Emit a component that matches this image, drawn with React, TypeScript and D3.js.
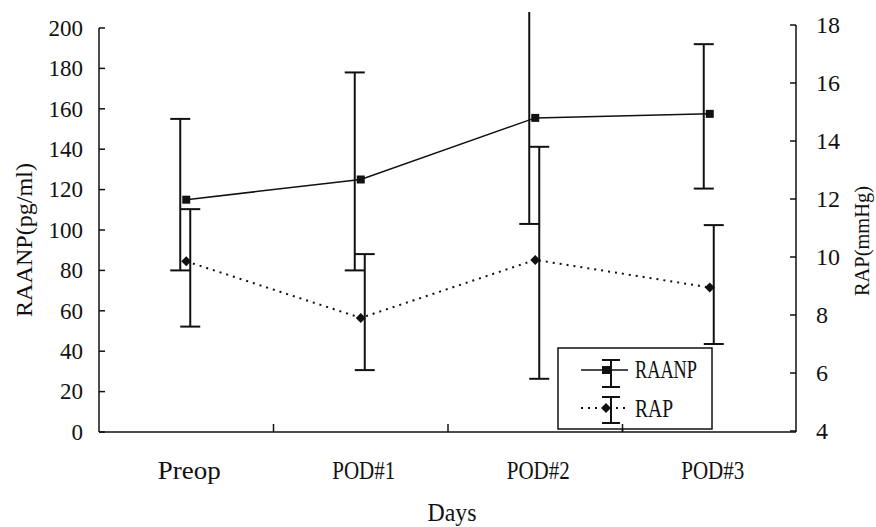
import React from "react";
import * as d3 from "d3";

const categories = ["Preop", "POD#1", "POD#2", "POD#3"];
const raanpMean = [115, 125, 155.5, 157.5];
const raanpUpper = [155, 178, 212, 192];
const raanpLower = [80, 80, 103, 120.5];
const rapMean = [9.85, 7.9, 9.9, 8.95];
const rapUpper = [11.65, 10.1, 13.8, 11.1];
const rapLower = [7.6, 6.1, 5.8, 7.0];
const leftTicks = [0, 20, 40, 60, 80, 100, 120, 140, 160, 180, 200];
const rightTicks = [4, 6, 8, 10, 12, 14, 16, 18];

const W = 876;
const H = 527;
const X0 = 99;
const X1 = 797;
const Y0 = 432;

export default function App() {
  const x = d3.scaleBand<string>().domain(categories).range([X0, X1]).padding(0);
  const yL = d3.scaleLinear().domain([0, 200]).range([432, 28]);
  const yR = d3.scaleLinear().domain([4, 18]).range([431, 25]);
  const cx = (c: string) => (x(c) as number) + x.bandwidth() / 2;

  const lineL = d3
    .line<number>()
    .x((_, i) => cx(categories[i]))
    .y((d) => yL(d));
  const lineR = d3
    .line<number>()
    .x((_, i) => cx(categories[i]))
    .y((d) => yR(d));

  const serif = "'Liberation Serif', 'Times New Roman', serif";
  const cap = 10;
  const boundaries = [...categories.map((c) => x(c) as number), X1];

  const diamond = (px: number, py: number, r: number) =>
    `M${px},${py - r}L${px + r},${py}L${px},${py + r}L${px - r},${py}Z`;

  return (
    <svg
      width={W}
      height={H}
      style={{ position: "absolute", left: 0, top: 0, background: "#fff" }}
      fontFamily={serif}
    >
      <defs>
        <clipPath id="plotclip">
          <rect x={0} y={12} width={W} height={H} />
        </clipPath>
      </defs>
      <rect x={0} y={0} width={W} height={H} fill="#fff" />

      {/* axes */}
      <line x1={X0} y1={28} x2={X0} y2={Y0} stroke="#111" strokeWidth={1.5} />
      <line x1={796} y1={25} x2={796} y2={Y0} stroke="#111" strokeWidth={1.5} />
      <line x1={X0} y1={Y0} x2={796} y2={Y0} stroke="#111" strokeWidth={1.5} />

      {leftTicks.map((t) => (
        <g key={"l" + t}>
          <line x1={X0} x2={X0 + 6} y1={yL(t)} y2={yL(t)} stroke="#111" strokeWidth={1.5} />
          <text x={83} y={yL(t)} dy="0.34em" textAnchor="end" fontSize={23} fill="#111">
            {t}
          </text>
        </g>
      ))}
      {rightTicks.map((t) => (
        <g key={"r" + t}>
          <line x1={790} x2={796} y1={yR(t)} y2={yR(t)} stroke="#111" strokeWidth={1.5} />
          <text x={816} y={yR(t)} dy="0.34em" textAnchor="start" fontSize={24} fill="#111">
            {t}
          </text>
        </g>
      ))}
      {boundaries.slice(1, -1).map((b, i) => (
        <line key={"b" + i} x1={b} x2={b} y1={Y0} y2={Y0 - 8} stroke="#111" strokeWidth={1.5} />
      ))}

      {categories.map((c) => (
        <text
          key={c}
          x={cx(c) + 3}
          y={479}
          textAnchor="middle"
          fontSize={26}
          fill="#111"
          textLength={63}
          lengthAdjust="spacingAndGlyphs"
        >
          {c}
        </text>
      ))}
      <text x={452} y={521} textAnchor="middle" fontSize={25} fill="#111" textLength={49} lengthAdjust="spacingAndGlyphs">
        Days
      </text>
      <text
        transform="translate(32,240) rotate(-90)"
        textAnchor="middle"
        fontSize={23}
        fill="#111"
        textLength={154}
        lengthAdjust="spacingAndGlyphs"
      >
        RAANP(pg/ml)
      </text>
      <text
        transform="translate(869,241) rotate(-90)"
        textAnchor="middle"
        fontSize={21}
        fill="#111"
        textLength={110}
        lengthAdjust="spacingAndGlyphs"
      >
        RAP(mmHg)
      </text>

      {/* error bars */}
      <g clipPath="url(#plotclip)" stroke="#111" strokeWidth={2}>
        {categories.map((c, i) => {
          const ex = cx(c) - 6;
          return (
            <g key={"ea" + c}>
              <line x1={ex} x2={ex} y1={yL(raanpUpper[i])} y2={yL(raanpLower[i])} />
              <line x1={ex - cap} x2={ex + cap} y1={yL(raanpUpper[i])} y2={yL(raanpUpper[i])} />
              <line x1={ex - cap} x2={ex + cap} y1={yL(raanpLower[i])} y2={yL(raanpLower[i])} />
            </g>
          );
        })}
        {categories.map((c, i) => {
          const ex = cx(c) + 4;
          return (
            <g key={"eb" + c}>
              <line x1={ex} x2={ex} y1={yR(rapUpper[i])} y2={yR(rapLower[i])} />
              <line x1={ex - cap} x2={ex + cap} y1={yR(rapUpper[i])} y2={yR(rapUpper[i])} />
              <line x1={ex - cap} x2={ex + cap} y1={yR(rapLower[i])} y2={yR(rapLower[i])} />
            </g>
          );
        })}
      </g>

      {/* lines */}
      <path d={lineL(raanpMean) ?? ""} fill="none" stroke="#111" strokeWidth={1.5} />
      <path d={lineR(rapMean) ?? ""} fill="none" stroke="#111" strokeWidth={2} strokeDasharray="2 5" />
      {categories.map((c, i) => (
        <rect key={"m" + c} x={cx(c) - 4} y={yL(raanpMean[i]) - 4} width={8} height={8} fill="#111" />
      ))}
      {categories.map((c, i) => (
        <path key={"d" + c} d={diamond(cx(c), yR(rapMean[i]), 5)} fill="#111" />
      ))}

      {/* legend */}
      <rect x={558} y={348} width={154} height={81} fill="#fff" stroke="#111" strokeWidth={1.5} />
      <line x1={581} x2={628} y1={370} y2={370} stroke="#111" strokeWidth={1.5} />
      <line x1={611} x2={611} y1={360} y2={387} stroke="#111" strokeWidth={2} />
      <line x1={602} x2={620} y1={360} y2={360} stroke="#111" strokeWidth={2} />
      <line x1={602} x2={620} y1={387} y2={387} stroke="#111" strokeWidth={2} />
      <rect x={602} y={366} width={8} height={8} fill="#111" />
      <text x={635} y={378} fontSize={25} fill="#111" textLength={62} lengthAdjust="spacingAndGlyphs">
        RAANP
      </text>
      <line x1={581} x2={628} y1={408} y2={408} stroke="#111" strokeWidth={2} strokeDasharray="2 5" />
      <line x1={611} x2={611} y1={397} y2={423} stroke="#111" strokeWidth={2} />
      <line x1={602} x2={620} y1={397} y2={397} stroke="#111" strokeWidth={2} />
      <line x1={602} x2={620} y1={423} y2={423} stroke="#111" strokeWidth={2} />
      <path d={diamond(606, 408, 5)} fill="#111" />
      <text x={635} y={417} fontSize={25} fill="#111" textLength={38} lengthAdjust="spacingAndGlyphs">
        RAP
      </text>
      <line x1={boundaries[3]} x2={boundaries[3]} y1={Y0} y2={Y0 - 8} stroke="#111" strokeWidth={1.5} />
    </svg>
  );
}
